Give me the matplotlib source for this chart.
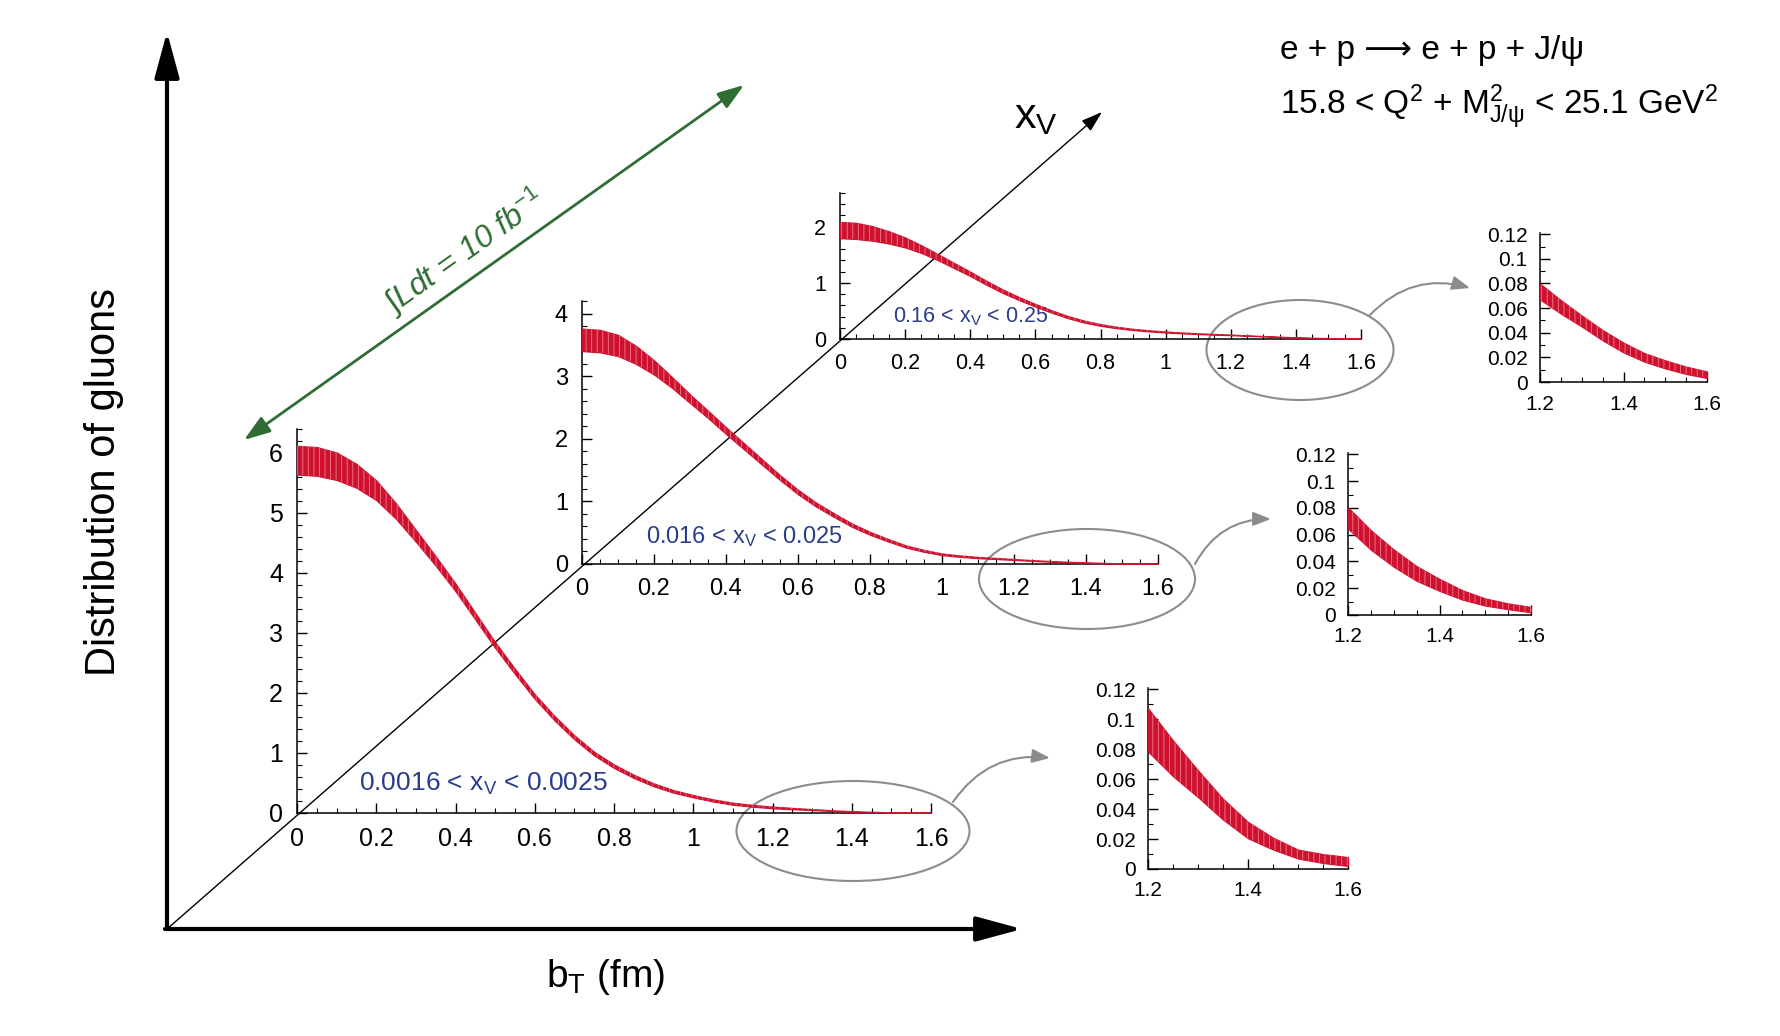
import numpy as np
import matplotlib.pyplot as plt
from matplotlib.patches import Ellipse
from matplotlib.ticker import MultipleLocator, FuncFormatter

plt.rcParams['font.family'] = ['Liberation Sans', 'DejaVu Sans']
plt.rcParams['mathtext.fontset'] = 'custom'
plt.rcParams['mathtext.rm'] = 'Liberation Sans'
plt.rcParams['mathtext.it'] = 'Liberation Sans:italic'
plt.rcParams['mathtext.bf'] = 'Liberation Sans:bold'
plt.rcParams['hatch.linewidth'] = 0.6

W, H = 1780, 1036
RED = '#cf1130'
BLUE = '#2b3d8a'
GREEN = '#2f6d34'
GRAY = '#8c8c8c'

# b_T grid (fm)
bt = np.linspace(0, 1.6, 33)

# gluon distribution: central value and half width of the band, per x_V bin
g1_mid = [5.88, 5.86, 5.78, 5.62, 5.38, 5.03, 4.62, 4.20, 3.76, 3.28, 2.80,
          2.36, 1.94, 1.58, 1.26, 0.99, 0.78, 0.61, 0.47, 0.36, 0.28, 0.21,
          0.155, 0.120, 0.093, 0.074, 0.057, 0.040, 0.026, 0.017, 0.010, 0.007, 0.005]
g1_err = [0.24, 0.24, 0.23, 0.20, 0.165, 0.13, 0.10, 0.08, 0.065, 0.057, 0.05,
          0.045, 0.04, 0.038, 0.035, 0.032, 0.03, 0.028, 0.025, 0.022, 0.02, 0.019,
          0.018, 0.016, 0.0145, 0.012, 0.009, 0.007, 0.0055, 0.004, 0.003, 0.003, 0.003]

g2_mid = [3.58, 3.56, 3.49, 3.34, 3.14, 2.90, 2.64, 2.39, 2.13, 1.88, 1.63,
          1.38, 1.15, 0.95, 0.78, 0.62, 0.49, 0.38, 0.28, 0.21, 0.155, 0.125,
          0.103, 0.088, 0.0725, 0.056, 0.0425, 0.031, 0.0225, 0.015, 0.0097, 0.0065, 0.004]
g2_err = [0.18, 0.18, 0.17, 0.145, 0.115, 0.088, 0.07, 0.06, 0.055, 0.05, 0.045,
          0.04, 0.037, 0.033, 0.03, 0.027, 0.024, 0.021, 0.018, 0.016, 0.014, 0.012,
          0.011, 0.0095, 0.008, 0.0073, 0.0065, 0.0055, 0.0045, 0.0035, 0.0027, 0.0022, 0.002]

g3_mid = [1.94, 1.925, 1.88, 1.81, 1.72, 1.60, 1.46, 1.31, 1.16, 1.00, 0.85,
          0.72, 0.60, 0.49, 0.39, 0.31, 0.25, 0.205, 0.17, 0.145, 0.125, 0.108,
          0.095, 0.083, 0.0735, 0.061, 0.0495, 0.038, 0.028, 0.020, 0.0143, 0.0095, 0.0059]
g3_err = [0.145, 0.145, 0.13, 0.11, 0.09, 0.07, 0.055, 0.047, 0.04, 0.036, 0.032,
          0.028, 0.025, 0.022, 0.02, 0.018, 0.016, 0.014, 0.012, 0.011, 0.01, 0.009,
          0.008, 0.007, 0.0065, 0.0055, 0.0045, 0.0042, 0.004, 0.0035, 0.0033, 0.003, 0.0027]

bin_labels = [r'0.0016 < x$_\mathregular{V}$ < 0.0025',
              r'0.016 < x$_\mathregular{V}$ < 0.025',
              r'0.16 < x$_\mathregular{V}$ < 0.25']


def add_px_axes(left, top, right, bottom):
    return fig.add_axes([left / W, 1 - bottom / H, (right - left) / W, (bottom - top) / H])


def style(ax, xlim, ylim, xmaj, xmin, ymaj, ymin, fs, pad):
    ax.set_xlim(*xlim)
    ax.set_ylim(*ylim)
    ax.patch.set_visible(False)
    for s in ['top', 'right']:
        ax.spines[s].set_visible(False)
    for s in ['left', 'bottom']:
        ax.spines[s].set_linewidth(1.1)
    ax.xaxis.set_major_locator(MultipleLocator(xmaj))
    ax.xaxis.set_minor_locator(MultipleLocator(xmin))
    ax.yaxis.set_major_locator(MultipleLocator(ymaj))
    ax.yaxis.set_minor_locator(MultipleLocator(ymin))
    fmt = FuncFormatter(lambda v, p: '%g' % round(v, 4))
    ax.xaxis.set_major_formatter(fmt)
    ax.yaxis.set_major_formatter(fmt)
    ax.tick_params(which='both', direction='in', labelsize=fs, pad=pad)
    ax.tick_params(which='major', length=7, width=1)
    ax.tick_params(which='minor', length=3.5, width=0.8)


def draw_band(ax, x, mid, err):
    lo = np.array(mid) - np.array(err)
    hi = np.array(mid) + np.array(err)
    ax.fill_between(x, lo, hi, facecolor=RED, edgecolor=RED, lw=0.8, zorder=3)
    ax.fill_between(x, lo, hi, facecolor='none', edgecolor='#f07d8c', hatch='|||', lw=0, zorder=4)


fig = plt.figure(figsize=(W / 100, H / 100), dpi=100)

# background layer in pixel coordinates
bg = fig.add_axes([0, 0, 1, 1])
bg.set_xlim(0, W)
bg.set_ylim(H, 0)
bg.axis('off')

big = dict(arrowstyle='-|>,head_length=1.4,head_width=0.38', color='black', lw=3,
           mutation_scale=20, shrinkA=0, shrinkB=0)
bg.annotate('', xy=(167, 32), xytext=(167, 929), arrowprops=big)
bg.annotate('', xy=(1022, 929), xytext=(165, 929), arrowprops=big)
bg.annotate('', xy=(1102, 112), xytext=(167, 929),
            arrowprops=dict(arrowstyle='-|>,head_length=1.3,head_width=0.42', color='black',
                            lw=1.0, mutation_scale=10, shrinkA=0, shrinkB=0))
bg.annotate('', xy=(744, 85), xytext=(244, 440),
            arrowprops=dict(arrowstyle='<|-|>,head_length=1.6,head_width=0.55', color=GREEN,
                            lw=2, mutation_scale=10, shrinkA=0, shrinkB=0))
bg.text(465, 252, r'$\int$Ldt = 10 fb$^{\mathit{-1}}$', color=GREEN, fontsize=23, style='italic',
        rotation=35.4, rotation_mode='anchor', ha='center', va='center')

bg.text(104, 482, 'Distribution of gluons', rotation=90, fontsize=30, ha='center', va='center')
bg.text(606, 977, r'b$_\mathregular{T}$ (fm)', fontsize=28, ha='center', va='center')
bg.text(1036, 117, r'x$_\mathregular{V}$', fontsize=31, ha='center', va='center')
bg.text(1280, 51, 'e + p ⟶ e + p + J/ψ', fontsize=24, ha='left', va='center')
bg.text(1280, 107, r'15.8 < Q$^2$ + M$^2_{\mathregular{J/ψ}}$ < 25.1 GeV$^2$',
        fontsize=24, ha='left', va='center')

# ellipses around the tails and the arrows to the zoomed views
for cx, cy, ew, eh in [(853, 831, 233, 100), (1087, 579, 216, 100), (1300, 350, 187, 100)]:
    bg.add_patch(Ellipse((cx, cy), ew, eh, fill=False, ec=GRAY, lw=1.5))
for start, end in [((953, 802), (1050, 758)), ((1195, 564), (1271, 519)), ((1370, 315), (1470, 288))]:
    bg.annotate('', xy=end, xytext=start,
                arrowprops=dict(arrowstyle='-|>,head_length=0.9,head_width=0.35', color=GRAY,
                                lw=1.5, mutation_scale=12, shrinkA=0, shrinkB=0,
                                connectionstyle='arc3,rad=-0.3'))

# main panels
panels = [
    ((297, 429, 931, 813), 6.4, g1_mid, g1_err, bin_labels[0], 18, (359, 784), 19),
    ((582, 301, 1158, 564), 4.2, g2_mid, g2_err, bin_labels[1], 17, (646, 537), 17),
    ((840, 193, 1361, 339), 2.6, g3_mid, g3_err, bin_labels[2], 15.5, (893, 317), 15.5),
]
for box, ytop, mid, err, lab, fs, lpos, lfs in panels:
    ax = add_px_axes(*box)
    draw_band(ax, bt, mid, err)
    style(ax, (0, 1.6), (0, ytop), 0.2, 0.05, 1, 0.2, fs, 10)
    bg.text(lpos[0], lpos[1], lab, color=BLUE, fontsize=lfs, ha='left', va='center')

# zoomed tails
tail = bt >= 1.2 - 1e-9
insets = [
    ((1148, 688, 1348, 869), g1_mid, g1_err),
    ((1348, 453, 1531, 615), g2_mid, g2_err),
    ((1540, 233, 1707, 382), g3_mid, g3_err),
]
for box, mid, err in insets:
    ax = add_px_axes(*box)
    draw_band(ax, bt[tail], np.array(mid)[tail], np.array(err)[tail])
    style(ax, (1.2, 1.6), (0, 0.121), 0.2, 0.05, 0.02, 0.01, 15, 9)

fig.savefig('out.png', dpi=100)
